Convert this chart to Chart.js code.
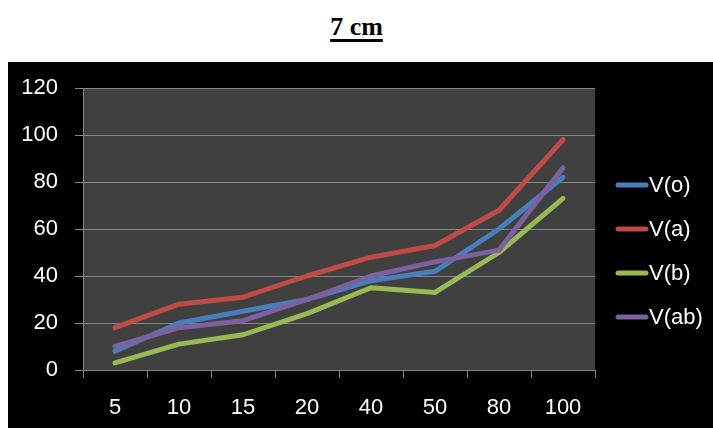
<!DOCTYPE html>
<html>
<head>
<meta charset="utf-8">
<script src="https://cdn.jsdelivr.net/npm/chart.js@4/dist/chart.umd.min.js"></script>
<style>
  html, body { margin: 0; padding: 0; background: #ffffff; }
  body { width: 713px; height: 428px; position: relative; overflow: hidden; }
  #title {
    position: absolute; left: 0; top: 11px; width: 713px; text-align: center;
    font-family: "Liberation Serif", "Times New Roman", serif; font-weight: bold;
    font-size: 26px; line-height: 32px; text-decoration: underline;
    text-decoration-thickness: 3px; text-underline-offset: 4px; color: #000;
  }
  #wrap { position: absolute; left: 8px; top: 62px; width: 705px; height: 366px; background: #000; }
  canvas { display: block; }
</style>
</head>
<body>
<div id="title">7 cm</div>
<div id="wrap"><canvas id="chart" width="705" height="366"></canvas></div>
<script>
// Concentration steps on the x axis
const categories = ['5', '10', '15', '20', '40', '50', '80', '100'];

// Measured series
const seriesNames = ['V(o)', 'V(a)', 'V(b)', 'V(ab)'];
const vO  = [8, 20, 25, 30, 38, 42, 60, 82];
const vA  = [18, 28, 31, 40, 48, 53, 68, 98];
const vB  = [3, 11, 15, 24, 35, 33, 50, 73];
const vAB = [10, 18, 21, 30, 40, 46, 51, 86];
const seriesValues = [vO, vA, vB, vAB];
const seriesColors = ['#4a7ebb', '#be4b48', '#98b954', '#7d60a0'];

// Y axis range
const yMin = 0, yMax = 120, yStep = 20;

const FONT = { family: '"Liberation Sans", Arial, sans-serif', size: 22 };

const plotBackground = {
  id: 'plotBackground',
  beforeDraw(chart) {
    const { ctx, chartArea: a } = chart;
    ctx.save();
    ctx.fillStyle = '#404040';
    ctx.fillRect(a.left, a.top, a.right - a.left, a.bottom - a.top);
    ctx.restore();
  }
};

const sideLegend = {
  id: 'sideLegend',
  afterDraw(chart) {
    const ctx = chart.ctx;
    const x0 = 608, x1 = 640, tx = 641, y0 = 123, gap = 44;
    ctx.save();
    ctx.font = FONT.size + 'px ' + FONT.family;
    ctx.textBaseline = 'middle';
    ctx.textAlign = 'left';
    chart.data.datasets.forEach((ds, i) => {
      const y = y0 + i * gap;
      ctx.strokeStyle = ds.borderColor;
      ctx.lineWidth = 5;
      ctx.lineCap = 'round';
      ctx.beginPath();
      ctx.moveTo(x0 + 2, y);
      ctx.lineTo(x1 - 2, y);
      ctx.stroke();
      ctx.fillStyle = '#ffffff';
      ctx.fillText(ds.label, tx, y + 1);
    });
    ctx.restore();
  }
};

const datasets = seriesNames.map((name, i) => ({
  label: name,
  data: seriesValues[i],
  borderColor: seriesColors[i],
  backgroundColor: seriesColors[i],
  borderWidth: 5,
  borderCapStyle: 'round',
  borderJoinStyle: 'round',
  pointRadius: 0,
  pointHoverRadius: 0,
  tension: 0,
  fill: false,
  order: seriesNames.length - i
}));

new Chart(document.getElementById('chart'), {
  type: 'line',
  data: { labels: categories, datasets },
  options: {
    responsive: false,
    animation: false,
    layout: { padding: { top: 26, right: 118, left: 0, bottom: 0 } },
    plugins: { legend: { display: false }, tooltip: { enabled: false }, title: { display: false } },
    scales: {
      x: {
        offset: true,
        grid: { offset: true, drawOnChartArea: false, drawTicks: true, tickLength: 8, color: '#868686', lineWidth: 1 },
        border: { display: true, color: '#868686', width: 1 },
        ticks: { color: '#ffffff', font: FONT, padding: 17, maxRotation: 0, autoSkip: false },
        afterFit(scale) { scale.height = 58; scale.paddingLeft = 0; scale.paddingRight = 0; }
      },
      y: {
        min: yMin, max: yMax,
        grid: { color: '#868686', lineWidth: 1, tickLength: 8 },
        border: { display: true, color: '#868686', width: 1 },
        ticks: { stepSize: yStep, color: '#ffffff', font: FONT, padding: 17 },
        afterFit(scale) { scale.width = 75; scale.paddingTop = 0; scale.paddingBottom = 0; }
      }
    }
  },
  plugins: [plotBackground, sideLegend]
});
</script>
</body>
</html>
